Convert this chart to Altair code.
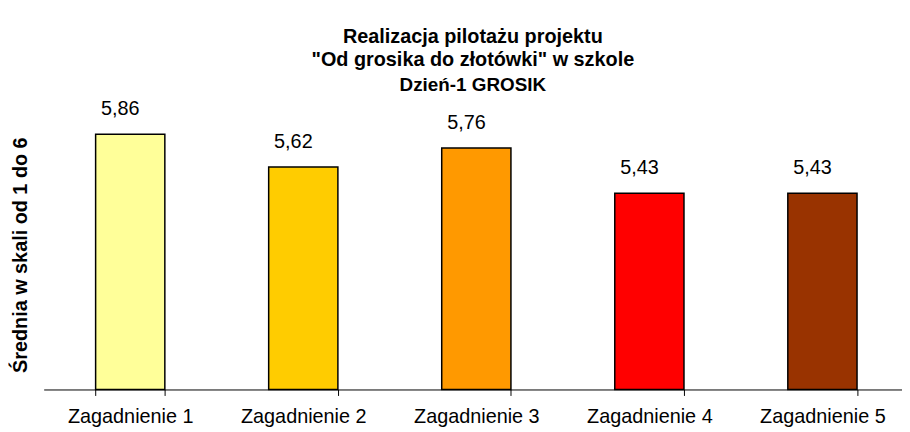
import altair as alt
import pandas as pd

categories = ["Zagadnienie 1", "Zagadnienie 2", "Zagadnienie 3", "Zagadnienie 4", "Zagadnienie 5"]
values = [5.86, 5.62, 5.76, 5.43, 5.43]
bar_colors = ["#FFFF99", "#FFCC00", "#FF9900", "#FF0000", "#993300"]
value_labels = [f"{v:.2f}".replace(".", ",") for v in values]

title_lines = ["Realizacja pilotażu projektu", "\"Od grosika do złotówki\" w szkole"]
subtitle_text = "Dzień-1 GROSIK"
y_title = "Średnia w skali od 1 do 6"

df = pd.DataFrame({"cat": categories, "val": values, "label": value_labels})

FONT = "Liberation Sans"

x_scale = alt.Scale(paddingInner=0.6, paddingOuter=0.28, align=0.536)
y_scale = alt.Scale(domain=[4, 6], zero=False, nice=False, clamp=True)

x_axis = alt.Axis(
    title=None,
    labelAngle=0,
    tickBand="extent",
    tickSize=6,
    tickColor="#000000",
    domainColor="#000000",
    domainWidth=1,
    tickWidth=1,
    labelFont=FONT,
    labelFontSize=20,
    labelColor="#000000",
    labelBaseline="alphabetic",
    labelPadding=27,
    grid=False,
)

y_axis = alt.Axis(
    title=y_title,
    labels=False,
    ticks=False,
    domain=False,
    grid=False,
    titleFont=FONT,
    titleFontSize=20,
    titleFontWeight="bold",
    titleColor="#000000",
    titleAngle=270,
    titleX=-23,
    titleY=141,
    titleBaseline="middle",
    titleAlign="center",
)

bars = alt.Chart(df).mark_bar(stroke="#000000", strokeWidth=1.5).encode(
    x=alt.X("cat:N", sort=categories, scale=x_scale, axis=x_axis),
    y=alt.Y("val:Q", scale=y_scale, axis=y_axis),
    color=alt.Color("cat:N", sort=categories, scale=alt.Scale(domain=categories, range=bar_colors), legend=None),
)

texts = alt.Chart(df).mark_text(
    font=FONT, fontSize=20, color="#000000", baseline="alphabetic", dx=-10, dy=-19
).encode(
    x=alt.X("cat:N", sort=categories, scale=x_scale),
    y=alt.Y("val:Q", scale=y_scale),
    text="label:N",
)

chart = (
    alt.layer(bars, texts)
    .properties(
        width=866,
        height=277,
        title=alt.Title(
            text=title_lines,
            subtitle=subtitle_text,
            font=FONT,
            fontSize=20,
            fontWeight="bold",
            color="#000000",
            lineHeight=23,
            subtitleFont=FONT,
            subtitleFontSize=19,
            subtitleFontWeight="bold",
            subtitleColor="#000000",
            subtitlePadding=6,
            anchor="middle",
            offset=5,
        ),
        autosize=alt.AutoSizeParams(type="none"),
        padding={"left": 36, "top": 106, "right": 0, "bottom": 41},
    )
    .configure_view(stroke=None)
)

chart.save("out.html", embed_options={"renderer": "svg", "actions": False})
